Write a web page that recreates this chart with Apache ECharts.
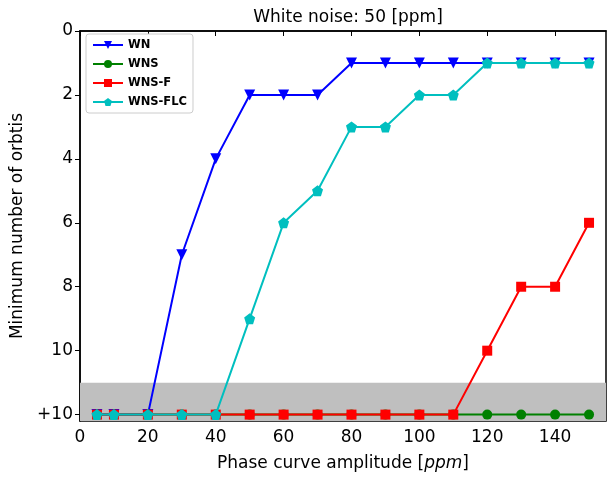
<!DOCTYPE html>
<html>
<head>
<meta charset="utf-8">
<script src="https://cdn.jsdelivr.net/npm/echarts@6/dist/echarts.min.js"></script>
<style>
  body { margin: 0; }
  #main { width: 608px; height: 479px; }
</style>
</head>
<body>
<div id="main"></div>
<script>
// amplitudes on x axis
var amplitude = [5, 10, 20, 30, 40, 50, 60, 70, 80, 90, 100, 110, 120, 130, 140, 150];
// 12 stands for "+10"
var wn    = [12, 12, 12, 7, 4, 2, 2, 2, 1, 1, 1, 1, 1, 1, 1, 1];
var wns   = [12, 12, 12, 12, 12, 12, 12, 12, 12, 12, 12, 12, 12, 12, 12, 12];
var wnsF  = [12, 12, 12, 12, 12, 12, 12, 12, 12, 12, 12, 12, 10, 8, 8, 6];
var wnsFLC = [12, 12, 12, 12, 12, 9, 6, 5, 3, 3, 2, 2, 1, 1, 1, 1];
var yTicks = {0: '0', 2: '2', 4: '4', 6: '6', 8: '8', 10: '10', 12: '+10'};

function pairs(ys) {
  return amplitude.map(function (x, i) { return [x, ys[i]]; });
}

var pentagon = 'path://M0,-10 L9.51,-3.09 L5.88,8.09 L-5.88,8.09 L-9.51,-3.09 Z';
var font = 'DejaVu Sans';
var fs = 17;

var chart = echarts.init(document.getElementById('main'));
chart.setOption({
  animation: false,
  title: {
    text: 'White noise: 50 [ppm]',
    left: 343, top: 4, textAlign: 'center',
    textStyle: { fontFamily: font, fontSize: fs, fontWeight: 'normal', color: '#000' }
  },
  legend: {
    orient: 'vertical', left: 86, top: 34,
    padding: [5, 6, 5, 6], itemGap: 7,
    itemWidth: 30, itemHeight: 10,
    borderColor: '#ccc', borderWidth: 1, borderRadius: 3,
    backgroundColor: '#fff',
    textStyle: { fontFamily: font, fontSize: 11.5, fontWeight: 'bold', color: '#000' },
    data: ['WN', 'WNS', 'WNS-F', 'WNS-FLC']
  },
  grid: { left: 80, right: 2, top: 31, bottom: 58, show: true, borderColor: '#000', borderWidth: 1.5 },
  xAxis: {
    type: 'value', min: 0, max: 155, interval: 20,
    name: '{n|Phase curve amplitude [}{i|ppm}{n|]}',
    nameLocation: 'middle', nameGap: 34,
    nameTextStyle: { rich: {
      n: { fontFamily: font, fontSize: fs, color: '#000' },
      i: { fontFamily: font, fontSize: fs, color: '#000', fontStyle: 'italic' }
    } },
    axisLine: { lineStyle: { color: '#000', width: 1.5 } },
    axisTick: { length: 5, lineStyle: { color: '#000' } },
    axisLabel: { fontFamily: font, fontSize: fs, color: '#000', margin: 8, showMaxLabel: false },
    splitLine: { show: false }
  },
  yAxis: {
    type: 'value', inverse: true, min: 0, max: 12.2, interval: 2,
    name: 'Minimum number of orbtis',
    nameLocation: 'middle', nameGap: 54,
    nameTextStyle: { fontFamily: font, fontSize: fs, color: '#000' },
    axisLine: { lineStyle: { color: '#000', width: 1.5 } },
    axisTick: { length: 5, lineStyle: { color: '#000' } },
    axisLabel: {
      fontFamily: font, fontSize: fs, color: '#000', margin: 7, showMaxLabel: false,
      formatter: function (v) { return yTicks[v] !== undefined ? yTicks[v] : ''; }
    },
    splitLine: { show: false }
  },
  series: [
    {
      type: 'line', data: [], silent: true, z: 0,
      markArea: {
        silent: true,
        itemStyle: { color: '#bfbfbf' },
        data: [[{ yAxis: 11 }, { yAxis: 12.2 }]]
      }
    },
    {
      name: 'WN', type: 'line', data: pairs(wn), z: 3,
      color: '#0000ff', symbol: 'triangle', symbolRotate: 180, symbolSize: 11,
      lineStyle: { width: 2 }
    },
    {
      name: 'WNS', type: 'line', data: pairs(wns), z: 4,
      color: '#008000', symbol: 'circle', symbolSize: 10,
      lineStyle: { width: 2 }
    },
    {
      name: 'WNS-F', type: 'line', data: pairs(wnsF), z: 5,
      color: '#ff0000', symbol: 'rect', symbolSize: 10,
      lineStyle: { width: 2 }
    },
    {
      name: 'WNS-FLC', type: 'line', data: pairs(wnsFLC), z: 6,
      color: '#00bfbf', symbol: pentagon, symbolSize: 11,
      lineStyle: { width: 2 }
    }
  ]
});
</script>
</body>
</html>
